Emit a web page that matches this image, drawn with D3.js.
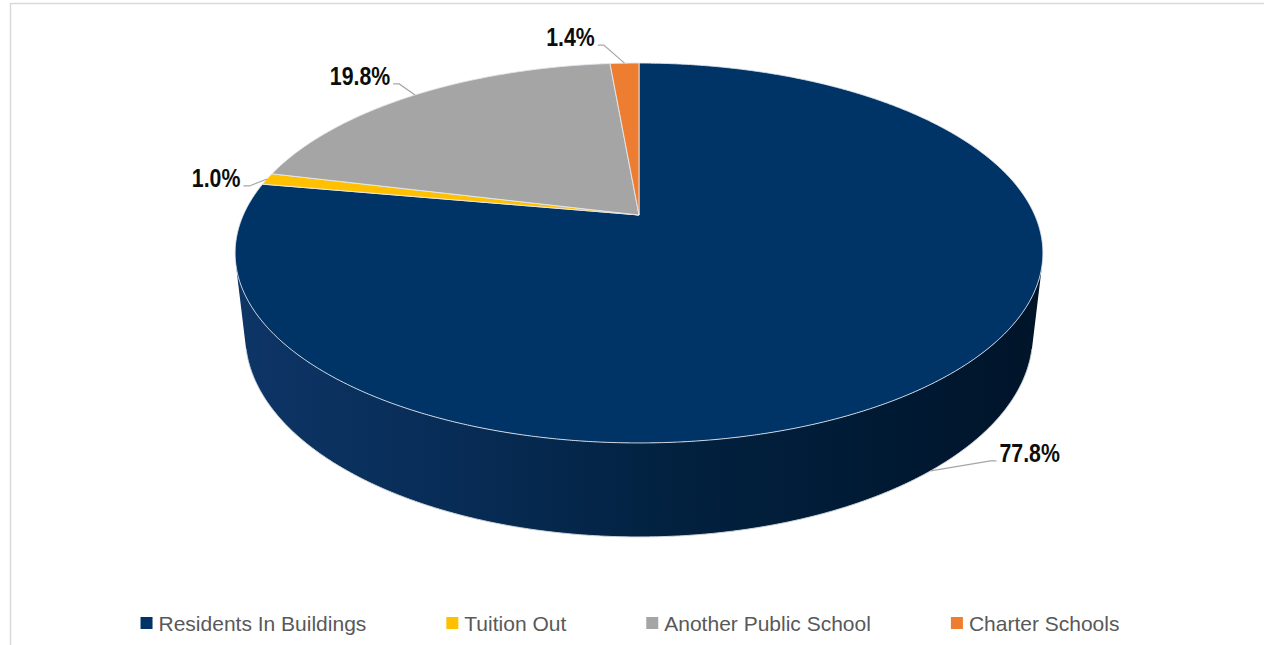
<!DOCTYPE html>
<html>
<head>
<meta charset="utf-8">
<script src="https://cdn.jsdelivr.net/npm/d3@7/dist/d3.min.js"></script>
<style>
  html, body { margin: 0; padding: 0; background: #ffffff; }
  svg { display: block; }
</style>
</head>
<body>
<svg id="chart" width="1264" height="645"></svg>
<script>
// Enrollment distribution
const categories = ["Residents In Buildings", "Tuition Out", "Another Public School", "Charter Schools"];
const shares = [77.8, 1.0, 19.8, 1.4];
const valueLabels = ["77.8%", "1.0%", "19.8%", "1.4%"];
const sliceColors = ["#003366", "#ffc000", "#a5a5a5", "#ed7d31"];

const svg = d3.select("#chart");
const W = 1264, H = 645;

// Chart frame
svg.append("rect")
  .attr("x", 10.5).attr("y", 3.5)
  .attr("width", 1300).attr("height", 700)
  .attr("fill", "#ffffff")
  .attr("stroke", "#d9d9d9").attr("stroke-width", 1.5);

// Perspective camera for the tilted disc (unit radius, top face at Y = 0)
const cam = {
  cx: 639, cy: 215,
  f: 1756,
  sinA: 0.4608, cosA: 0.8875,
  dist: 4.4375,
  depth: 0.2367
};
function project(X, Y, Z) {
  const s = Y * cam.cosA - Z * cam.sinA;
  const d = cam.dist - (Y * cam.sinA + Z * cam.cosA);
  return [cam.cx + cam.f * X / d, cam.cy - cam.f * s / d];
}
// angle measured clockwise from the far (top) point, same as d3.pie
function rimPoint(a, Y) {
  return project(Math.sin(a), Y, -Math.cos(a));
}
function wallVisible(a) {
  return Math.cos(a) < -1 / (cam.dist * cam.cosA);
}

const pie = d3.pie().sort(null).value(d => d.value).startAngle(0).endAngle(2 * Math.PI);
const arcs = pie(categories.map((c, i) => ({ name: c, value: shares[i], color: sliceColors[i], label: valueLabels[i] })));

const line = d3.line();
const step = Math.PI / 720;

function sampleAngles(a0, a1) {
  const out = [];
  const n = Math.max(2, Math.ceil((a1 - a0) / step));
  for (let k = 0; k <= n; k++) out.push(a0 + (a1 - a0) * k / n);
  return out;
}

const defs = svg.append("defs");
const grad = defs.append("linearGradient")
  .attr("id", "wallShade")
  .attr("gradientUnits", "userSpaceOnUse")
  .attr("x1", 235).attr("y1", 0).attr("x2", 1043).attr("y2", 0);
[["0%", "#0d3566"], ["30%", "#072b54"], ["55%", "#02213f"], ["80%", "#001a34"], ["100%", "#001429"]]
  .forEach(([o, c]) => grad.append("stop").attr("offset", o).attr("stop-color", c));

const gPie = svg.append("g");

// Outer walls (only the camera-facing part of each slice)
arcs.forEach(a => {
  const angles = sampleAngles(a.startAngle, a.endAngle).filter(wallVisible);
  if (angles.length < 2) return;
  const top = angles.map(t => rimPoint(t, 0));
  const bottom = angles.map(t => rimPoint(t, -cam.depth)).reverse();
  gPie.append("path")
    .attr("d", line(top.concat(bottom)) + "Z")
    .attr("fill", a.index === 0 ? "url(#wallShade)" : d3.color(a.data.color).darker(1.2))
    .attr("stroke", "none");
  gPie.append("path")
    .attr("d", line(bottom))
    .attr("fill", "none")
    .attr("stroke", "#cfd5dc").attr("stroke-width", 1);
});

// Top faces
arcs.forEach(a => {
  const pts = [project(0, 0, 0)].concat(sampleAngles(a.startAngle, a.endAngle).map(t => rimPoint(t, 0)));
  gPie.append("path")
    .attr("d", line(pts) + "Z")
    .attr("fill", a.data.color)
    .attr("stroke", "#e4e8ee").attr("stroke-width", 0.9)
    .attr("stroke-linejoin", "round");
});

// Data labels with leader lines
const labelOffsets = [[99, -9], [-51, 8], [-55, -10], [-54, -17]];
const gLab = svg.append("g");
arcs.forEach((a, i) => {
  const mid = (a.startAngle + a.endAngle) / 2;
  const anchor = wallVisible(mid) ? rimPoint(mid, -cam.depth) : rimPoint(mid, 0);
  const [dx, dy] = labelOffsets[i];
  const lx = anchor[0] + dx, ly = anchor[1] + dy;
  const t = gLab.append("text")
    .attr("transform", `translate(${lx},${ly}) scale(0.82,1)`)
    .attr("text-anchor", "middle")
    .attr("font-family", "'Liberation Sans', Arial, sans-serif")
    .attr("font-weight", "bold")
    .attr("font-size", 26)
    .attr("fill", "#0d0d0d")
    .text(a.data.label);
  const w = t.node().getComputedTextLength() * 0.82;
  const side = dx > 0 ? -1 : 1;
  const sx = lx + side * (w / 2 + 3), sy = ly - 1;
  const pts = [[sx, sy], [sx + side * 6, sy], anchor];
  gLab.insert("path", "text")
    .attr("d", line(pts))
    .attr("fill", "none")
    .attr("stroke", "#a6a6a6").attr("stroke-width", 1.2);
});

// Legend
const gLeg = svg.append("g");
const items = [];
let cursor = 0;
categories.forEach((c, i) => {
  const g = gLeg.append("g");
  g.append("rect").attr("x", 0).attr("y", -14).attr("width", 12).attr("height", 12).attr("fill", sliceColors[i]);
  const tx = g.append("text")
    .attr("x", 18).attr("y", 0)
    .attr("font-family", "'Liberation Sans', Arial, sans-serif")
    .attr("font-size", 21)
    .attr("fill", "#595959")
    .text(c);
  const w = 18 + tx.node().getComputedTextLength();
  items.push({ g, x: cursor });
  cursor += w + 80;
});
const total = cursor - 80;
const startX = 630 - total / 2;
items.forEach(it => it.g.attr("transform", `translate(${startX + it.x},631)`));
</script>
</body>
</html>
